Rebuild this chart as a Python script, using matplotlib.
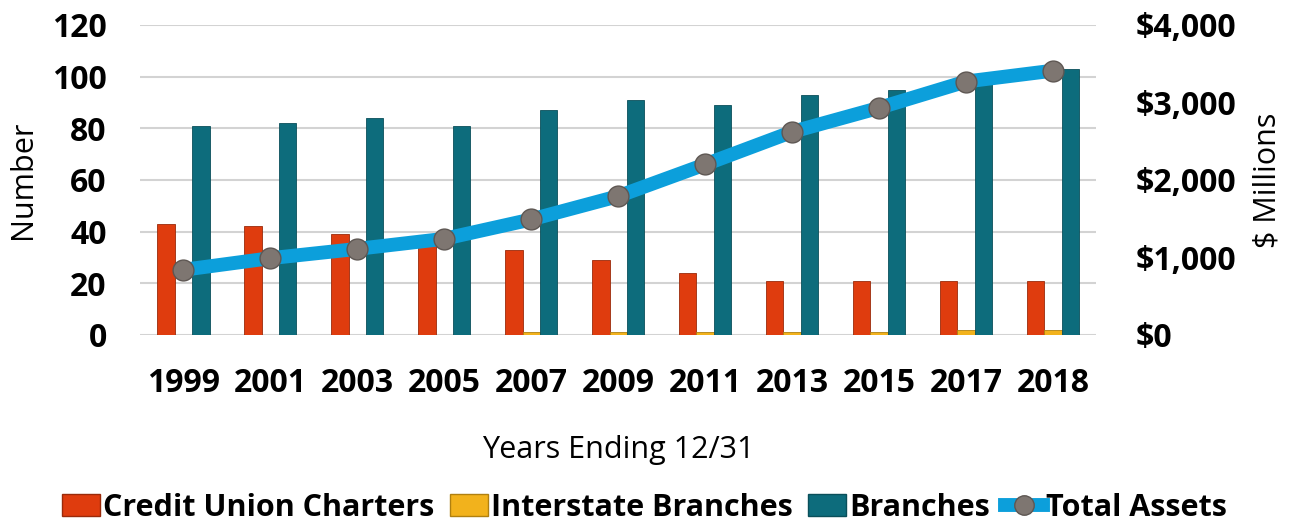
import matplotlib
matplotlib.use("Agg")
import matplotlib.pyplot as plt
import numpy as np
from matplotlib.patches import Patch
from matplotlib.lines import Line2D
from matplotlib.ticker import FuncFormatter

plt.rcParams['font.family'] = ['Open Sans', 'DejaVu Sans']

# Data
years = ["1999", "2001", "2003", "2005", "2007", "2009", "2011", "2013", "2015", "2017", "2018"]
charters = [43, 42, 39, 36, 33, 29, 24, 21, 21, 21, 21]
interstate = [0, 0, 0, 0, 1, 1, 1, 1, 1, 2, 2]
branches = [81, 82, 84, 81, 87, 91, 89, 93, 95, 101, 103]
total_assets = [840, 990, 1110, 1240, 1490, 1790, 2200, 2620, 2930, 3270, 3410]  # $ millions

red = "#DF3C0E"
yellow = "#F2B21C"
teal = "#0D6C7C"
blue = "#0C9FDB"
grey = "#7E7671"

fig = plt.figure(figsize=(12.89, 5.2), dpi=100)
ax = fig.add_axes([0.1086, 0.356, 0.742, 0.596])
x = np.arange(len(years))
w = 0.2

ax.bar(x - w, charters, w, color=red, edgecolor="#9A2A0A", linewidth=0.6, zorder=2)
ax.bar(x, interstate, w, color=yellow, edgecolor="#B08010", linewidth=0.6, zorder=2)
ax.bar(x + w, branches, w, color=teal, edgecolor="#0A4F5A", linewidth=0.6, zorder=2)

ax.set_ylim(0, 120)
ax.set_xlim(-0.5, len(years) - 0.5)
ax.set_yticks(range(0, 121, 20))
ax.set_xticks(x)
ax.set_xticklabels(years)
ax.yaxis.grid(True, color="#D3D3D3", linewidth=1.5, zorder=0)
ax.set_axisbelow(True)
for s in ax.spines.values():
    s.set_visible(False)
ax.tick_params(axis="y", length=0, pad=24, labelsize=23)
ax.tick_params(axis="x", length=0, pad=23, labelsize=23)
for t in ax.get_xticklabels() + ax.get_yticklabels():
    t.set_fontweight("bold")
ax.set_ylabel("Number", fontsize=22, labelpad=10)
ax.set_xlabel("Years Ending 12/31", fontsize=22, labelpad=25)

ax2 = ax.twinx()
ax2.plot(x, total_assets, color=blue, linewidth=10, solid_capstyle="round",
         marker="o", markersize=15, markerfacecolor=grey, markeredgecolor="#5E5753",
         markeredgewidth=1, zorder=3)
ax2.set_ylim(0, 4000)
ax2.set_yticks(range(0, 4001, 1000))
ax2.yaxis.set_major_formatter(FuncFormatter(lambda v, p: f"${v:,.0f}"))
for s in ax2.spines.values():
    s.set_visible(False)
ax2.tick_params(axis="y", length=0, pad=28, labelsize=23)
for t in ax2.get_yticklabels():
    t.set_fontweight("bold")
ax2.set_ylabel("$ Millions", fontsize=22, labelpad=12)

handles = [
    Patch(facecolor=red, edgecolor="#9A2A0A"),
    Patch(facecolor=yellow, edgecolor="#B08010"),
    Patch(facecolor=teal, edgecolor="#0A4F5A"),
    Line2D([0], [0], color=blue, linewidth=10, marker="o", markersize=14,
           markerfacecolor=grey, markeredgecolor="#5E5753"),
]
labels = ["Credit Union Charters", "Interstate Branches", "Branches", "Total Assets"]
fig.legend(handles, labels, loc="center", bbox_to_anchor=(0.5, 0.024), ncol=4,
           frameon=False, prop={"size": 22, "weight": "bold"},
           handlelength=1.25, handletextpad=0.1, columnspacing=0.5)

fig.savefig("out.png", dpi=100)
